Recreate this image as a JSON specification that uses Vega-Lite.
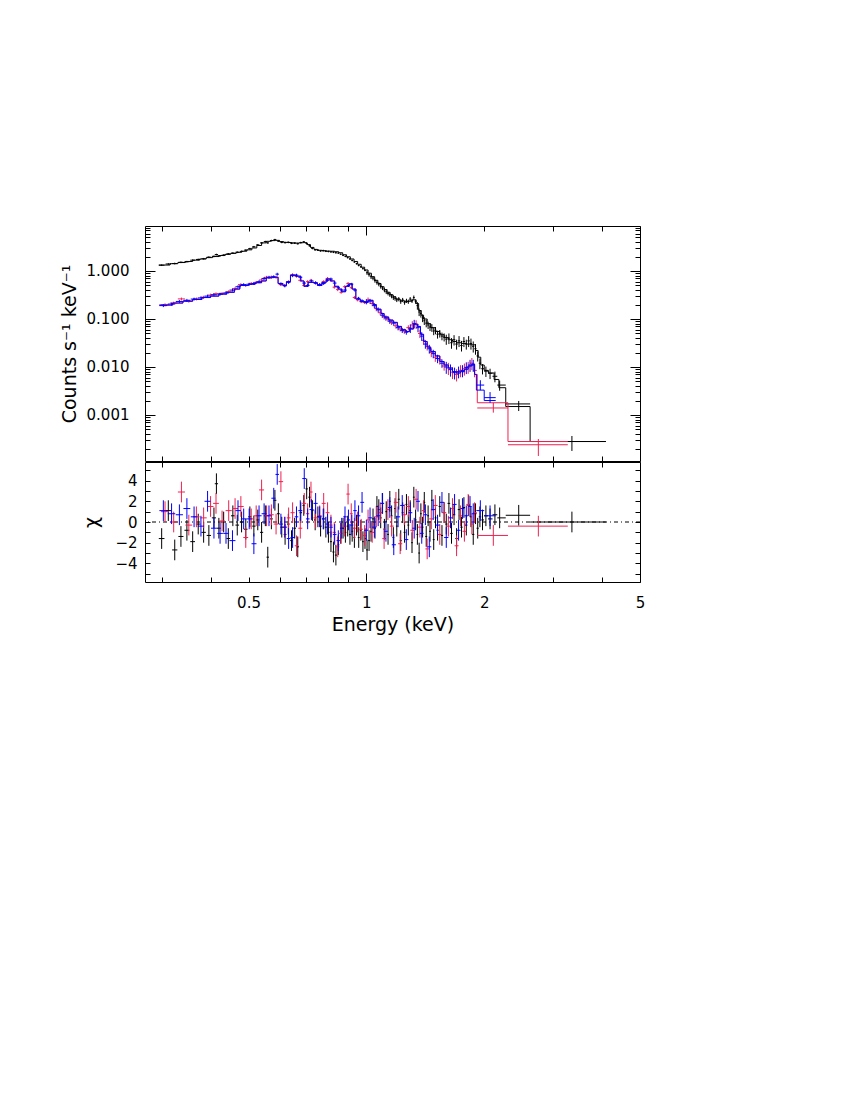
{
"$schema":"https://vega.github.io/schema/vega-lite/v6.json",
"background":"white",
"padding":{"left":59,"top":225,"right":5,"bottom":5},
"spacing":-3,
"config":{
 "view":{"stroke":"black","strokeWidth":1},
 "font":"DejaVu Sans",
 "axis":{"domain":false,"grid":false,"tickColor":"black","tickWidth":1,"labelFont":"DejaVu Sans","labelFontSize":15,"labelColor":"black","titleFont":"DejaVu Sans","titleFontSize":19,"titleFontWeight":"normal","titleColor":"black","labelOverlap":false,"labelFlush":false,"labelBound":false},
 "line":{"strokeWidth":1},
 "rule":{"strokeWidth":1}
},
"datasets":{
"obs":[
{"s":"k","e":0.300,"a":0.295,"b":0.305,"y":1.32,"l":1.27,"h":1.37,"r":-1.6,"rl":-2.6,"rh":-0.6},
{"s":"k","e":0.312,"a":0.307,"b":0.317,"y":1.40,"l":1.34,"h":1.46,"r":1.1,"rl":0.1,"rh":2.1},
{"s":"k","e":0.324,"a":0.319,"b":0.329,"y":1.43,"l":1.37,"h":1.49,"r":-2.7,"rl":-3.7,"rh":-1.7},
{"s":"k","e":0.336,"a":0.331,"b":0.341,"y":1.52,"l":1.46,"h":1.58,"r":-1.4,"rl":-2.4,"rh":-0.4},
{"s":"k","e":0.348,"a":0.343,"b":0.353,"y":1.56,"l":1.50,"h":1.62,"r":-0.8,"rl":-1.8,"rh":0.2},
{"s":"k","e":0.360,"a":0.355,"b":0.365,"y":1.68,"l":1.61,"h":1.75,"r":-1.9,"rl":-2.9,"rh":-0.9},
{"s":"k","e":0.372,"a":0.367,"b":0.377,"y":1.74,"l":1.67,"h":1.81,"r":-0.2,"rl":-1.2,"rh":0.8},
{"s":"k","e":0.384,"a":0.379,"b":0.389,"y":1.80,"l":1.73,"h":1.87,"r":-1.0,"rl":-2.0,"rh":0.0},
{"s":"k","e":0.396,"a":0.391,"b":0.401,"y":1.94,"l":1.86,"h":2.02,"r":-1.3,"rl":-2.3,"rh":-0.3},
{"s":"k","e":0.408,"a":0.403,"b":0.413,"y":2.02,"l":1.94,"h":2.10,"r":0.4,"rl":-0.6,"rh":1.4},
{"s":"k","e":0.414,"a":0.410,"b":0.418,"y":2.20,"l":2.11,"h":2.29,"r":3.7,"rl":2.7,"rh":4.7},
{"s":"k","e":0.420,"a":0.415,"b":0.425,"y":2.05,"l":1.97,"h":2.13,"r":-0.6,"rl":-1.6,"rh":0.4},
{"s":"k","e":0.432,"a":0.427,"b":0.437,"y":2.14,"l":2.05,"h":2.23,"r":0.0,"rl":-1.0,"rh":1.0},
{"s":"k","e":0.444,"a":0.439,"b":0.449,"y":2.28,"l":2.19,"h":2.37,"r":-1.6,"rl":-2.6,"rh":-0.6},
{"s":"k","e":0.456,"a":0.451,"b":0.461,"y":2.36,"l":2.27,"h":2.45,"r":0.6,"rl":-0.4,"rh":1.6},
{"s":"k","e":0.468,"a":0.463,"b":0.473,"y":2.46,"l":2.36,"h":2.56,"r":-0.3,"rl":-1.3,"rh":0.7},
{"s":"k","e":0.480,"a":0.475,"b":0.485,"y":2.56,"l":2.46,"h":2.66,"r":0.0,"rl":-1.0,"rh":1.0},
{"s":"k","e":0.492,"a":0.487,"b":0.497,"y":2.72,"l":2.61,"h":2.83,"r":-0.7,"rl":-1.7,"rh":0.3},
{"s":"k","e":0.504,"a":0.499,"b":0.509,"y":2.92,"l":2.80,"h":3.04,"r":0.5,"rl":-0.5,"rh":1.5},
{"s":"k","e":0.516,"a":0.511,"b":0.521,"y":3.20,"l":3.07,"h":3.33,"r":-0.4,"rl":-1.4,"rh":0.6},
{"s":"k","e":0.528,"a":0.523,"b":0.533,"y":3.50,"l":3.36,"h":3.64,"r":0.2,"rl":-0.8,"rh":1.2},
{"s":"k","e":0.540,"a":0.535,"b":0.545,"y":3.85,"l":3.70,"h":4.00,"r":-1.0,"rl":-2.0,"rh":0.0},
{"s":"k","e":0.552,"a":0.547,"b":0.557,"y":4.10,"l":3.94,"h":4.26,"r":0.6,"rl":-0.4,"rh":1.6},
{"s":"k","e":0.560,"a":0.556,"b":0.564,"y":3.85,"l":3.70,"h":4.00,"r":-3.4,"rl":-4.4,"rh":-2.4},
{"s":"k","e":0.572,"a":0.567,"b":0.577,"y":4.30,"l":4.13,"h":4.47,"r":0.3,"rl":-0.7,"rh":1.3},
{"s":"k","e":0.584,"a":0.579,"b":0.589,"y":4.50,"l":4.32,"h":4.68,"r":2.1,"rl":1.1,"rh":3.1},
{"s":"k","e":0.596,"a":0.591,"b":0.601,"y":4.20,"l":4.03,"h":4.37,"r":0.8,"rl":-0.2,"rh":1.8},
{"s":"k","e":0.608,"a":0.603,"b":0.613,"y":3.95,"l":3.79,"h":4.11,"r":-0.5,"rl":-1.5,"rh":0.5},
{"s":"k","e":0.620,"a":0.615,"b":0.625,"y":3.90,"l":3.74,"h":4.06,"r":-1.2,"rl":-2.2,"rh":-0.2},
{"s":"k","e":0.632,"a":0.627,"b":0.637,"y":3.96,"l":3.80,"h":4.12,"r":-0.2,"rl":-1.2,"rh":0.8},
{"s":"k","e":0.644,"a":0.639,"b":0.649,"y":3.78,"l":3.63,"h":3.93,"r":-1.8,"rl":-2.8,"rh":-0.8},
{"s":"k","e":0.656,"a":0.651,"b":0.661,"y":3.80,"l":3.65,"h":3.95,"r":-0.6,"rl":-1.6,"rh":0.4},
{"s":"k","e":0.668,"a":0.663,"b":0.673,"y":3.70,"l":3.55,"h":3.85,"r":-2.4,"rl":-3.4,"rh":-1.4},
{"s":"k","e":0.680,"a":0.675,"b":0.685,"y":3.90,"l":3.74,"h":4.06,"r":0.9,"rl":-0.1,"rh":1.9},
{"s":"k","e":0.692,"a":0.687,"b":0.697,"y":4.05,"l":3.89,"h":4.21,"r":1.6,"rl":0.6,"rh":2.6},
{"s":"k","e":0.704,"a":0.699,"b":0.709,"y":3.75,"l":3.60,"h":3.90,"r":3.2,"rl":2.2,"rh":4.2},
{"s":"k","e":0.716,"a":0.711,"b":0.721,"y":3.35,"l":3.22,"h":3.48,"r":2.4,"rl":1.4,"rh":3.4},
{"s":"k","e":0.728,"a":0.723,"b":0.733,"y":2.95,"l":2.83,"h":3.07,"r":1.1,"rl":0.1,"rh":2.1},
{"s":"k","e":0.740,"a":0.735,"b":0.745,"y":2.76,"l":2.65,"h":2.87,"r":0.2,"rl":-0.8,"rh":1.2},
{"s":"k","e":0.752,"a":0.747,"b":0.757,"y":2.72,"l":2.61,"h":2.83,"r":0.5,"rl":-0.5,"rh":1.5},
{"s":"k","e":0.764,"a":0.759,"b":0.769,"y":2.62,"l":2.52,"h":2.72,"r":-0.4,"rl":-1.4,"rh":0.6},
{"s":"k","e":0.776,"a":0.771,"b":0.781,"y":2.66,"l":2.55,"h":2.77,"r":0.3,"rl":-0.7,"rh":1.3},
{"s":"k","e":0.788,"a":0.783,"b":0.793,"y":2.58,"l":2.48,"h":2.68,"r":-0.5,"rl":-1.5,"rh":0.5},
{"s":"k","e":0.800,"a":0.795,"b":0.805,"y":2.55,"l":2.45,"h":2.65,"r":-1.0,"rl":-2.0,"rh":0.0},
{"s":"k","e":0.812,"a":0.807,"b":0.817,"y":2.50,"l":2.40,"h":2.60,"r":-1.9,"rl":-2.9,"rh":-0.9},
{"s":"k","e":0.824,"a":0.819,"b":0.829,"y":2.46,"l":2.36,"h":2.56,"r":-2.9,"rl":-3.9,"rh":-1.9},
{"s":"k","e":0.836,"a":0.831,"b":0.841,"y":2.40,"l":2.30,"h":2.50,"r":-3.2,"rl":-4.2,"rh":-2.2},
{"s":"k","e":0.848,"a":0.843,"b":0.853,"y":2.36,"l":2.27,"h":2.45,"r":-2.2,"rl":-3.2,"rh":-1.2},
{"s":"k","e":0.860,"a":0.855,"b":0.865,"y":2.24,"l":2.15,"h":2.33,"r":-1.1,"rl":-2.1,"rh":-0.1},
{"s":"k","e":0.872,"a":0.867,"b":0.877,"y":2.12,"l":2.04,"h":2.20,"r":-0.6,"rl":-1.6,"rh":0.4},
{"s":"k","e":0.884,"a":0.879,"b":0.889,"y":2.02,"l":1.94,"h":2.10,"r":-1.0,"rl":-2.0,"rh":0.0},
{"s":"k","e":0.896,"a":0.891,"b":0.901,"y":1.90,"l":1.82,"h":1.98,"r":-0.4,"rl":-1.4,"rh":0.6},
{"s":"k","e":0.908,"a":0.903,"b":0.913,"y":1.78,"l":1.71,"h":1.85,"r":-1.2,"rl":-2.2,"rh":-0.2},
{"s":"k","e":0.920,"a":0.915,"b":0.925,"y":1.66,"l":1.59,"h":1.73,"r":-0.9,"rl":-1.9,"rh":0.1},
{"s":"k","e":0.932,"a":0.927,"b":0.937,"y":1.54,"l":1.48,"h":1.60,"r":-1.5,"rl":-2.5,"rh":-0.5},
{"s":"k","e":0.944,"a":0.939,"b":0.949,"y":1.42,"l":1.36,"h":1.48,"r":-0.3,"rl":-1.3,"rh":0.7},
{"s":"k","e":0.956,"a":0.951,"b":0.961,"y":1.30,"l":1.25,"h":1.35,"r":-1.5,"rl":-2.5,"rh":-0.5},
{"s":"k","e":0.968,"a":0.963,"b":0.973,"y":1.22,"l":1.17,"h":1.27,"r":-0.8,"rl":-1.8,"rh":0.2},
{"s":"k","e":0.980,"a":0.975,"b":0.985,"y":1.12,"l":1.07,"h":1.17,"r":-1.9,"rl":-2.9,"rh":-0.9},
{"s":"k","e":0.992,"a":0.987,"b":0.997,"y":1.03,"l":0.99,"h":1.07,"r":-1.6,"rl":-2.6,"rh":-0.6},
{"s":"k","e":1.004,"a":0.998,"b":1.010,"y":0.92,"l":0.83,"h":1.01,"r":-2.7,"rl":-3.7,"rh":-1.7},
{"s":"k","e":1.016,"a":1.010,"b":1.022,"y":0.84,"l":0.76,"h":0.92,"r":-1.8,"rl":-2.8,"rh":-0.8},
{"s":"k","e":1.028,"a":1.022,"b":1.034,"y":0.76,"l":0.68,"h":0.84,"r":-0.9,"rl":-1.9,"rh":0.1},
{"s":"k","e":1.040,"a":1.034,"b":1.046,"y":0.71,"l":0.64,"h":0.78,"r":0.3,"rl":-0.7,"rh":1.3},
{"s":"k","e":1.052,"a":1.046,"b":1.058,"y":0.63,"l":0.57,"h":0.69,"r":-0.6,"rl":-1.6,"rh":0.4},
{"s":"k","e":1.064,"a":1.058,"b":1.070,"y":0.58,"l":0.52,"h":0.64,"r":1.5,"rl":0.5,"rh":2.5},
{"s":"k","e":1.076,"a":1.070,"b":1.082,"y":0.53,"l":0.48,"h":0.58,"r":1.2,"rl":0.2,"rh":2.2},
{"s":"k","e":1.088,"a":1.082,"b":1.094,"y":0.48,"l":0.43,"h":0.53,"r":0.4,"rl":-0.6,"rh":1.4},
{"s":"k","e":1.100,"a":1.094,"b":1.106,"y":0.44,"l":0.40,"h":0.48,"r":1.8,"rl":0.8,"rh":2.8},
{"s":"k","e":1.112,"a":1.106,"b":1.118,"y":0.40,"l":0.36,"h":0.44,"r":-0.7,"rl":-1.7,"rh":0.3},
{"s":"k","e":1.124,"a":1.118,"b":1.130,"y":0.37,"l":0.33,"h":0.41,"r":1.0,"rl":0.0,"rh":2.0},
{"s":"k","e":1.136,"a":1.130,"b":1.142,"y":0.34,"l":0.31,"h":0.37,"r":-1.2,"rl":-2.2,"rh":-0.2},
{"s":"k","e":1.148,"a":1.142,"b":1.154,"y":0.32,"l":0.29,"h":0.35,"r":2.0,"rl":1.0,"rh":3.0},
{"s":"k","e":1.160,"a":1.154,"b":1.166,"y":0.30,"l":0.27,"h":0.33,"r":0.6,"rl":-0.4,"rh":1.6},
{"s":"k","e":1.172,"a":1.166,"b":1.178,"y":0.28,"l":0.25,"h":0.31,"r":-1.5,"rl":-2.5,"rh":-0.5},
{"s":"k","e":1.184,"a":1.178,"b":1.190,"y":0.27,"l":0.24,"h":0.30,"r":1.3,"rl":0.3,"rh":2.3},
{"s":"k","e":1.196,"a":1.190,"b":1.203,"y":0.25,"l":0.225,"h":0.275,"r":-0.4,"rl":-1.4,"rh":0.6},
{"s":"k","e":1.210,"a":1.203,"b":1.217,"y":0.26,"l":0.234,"h":0.286,"r":2.2,"rl":1.2,"rh":3.2},
{"s":"k","e":1.224,"a":1.217,"b":1.231,"y":0.23,"l":0.207,"h":0.253,"r":-1.8,"rl":-2.8,"rh":-0.8},
{"s":"k","e":1.238,"a":1.231,"b":1.245,"y":0.25,"l":0.225,"h":0.275,"r":0.9,"rl":-0.1,"rh":1.9},
{"s":"k","e":1.252,"a":1.245,"b":1.259,"y":0.22,"l":0.198,"h":0.242,"r":-1.0,"rl":-2.0,"rh":0.0},
{"s":"k","e":1.266,"a":1.259,"b":1.273,"y":0.24,"l":0.216,"h":0.264,"r":1.7,"rl":0.7,"rh":2.7},
{"s":"k","e":1.280,"a":1.273,"b":1.287,"y":0.23,"l":0.207,"h":0.253,"r":-0.3,"rl":-1.3,"rh":0.7},
{"s":"k","e":1.294,"a":1.287,"b":1.301,"y":0.26,"l":0.234,"h":0.286,"r":1.1,"rl":0.1,"rh":2.1},
{"s":"k","e":1.308,"a":1.301,"b":1.315,"y":0.24,"l":0.216,"h":0.264,"r":-2.0,"rl":-3.0,"rh":-1.0},
{"s":"k","e":1.322,"a":1.315,"b":1.329,"y":0.28,"l":0.252,"h":0.308,"r":2.4,"rl":1.4,"rh":3.4},
{"s":"k","e":1.336,"a":1.329,"b":1.343,"y":0.23,"l":0.207,"h":0.253,"r":0.2,"rl":-0.8,"rh":1.2},
{"s":"k","e":1.350,"a":1.343,"b":1.357,"y":0.19,"l":0.156,"h":0.224,"r":-1.2,"rl":-2.2,"rh":-0.2},
{"s":"k","e":1.364,"a":1.357,"b":1.371,"y":0.14,"l":0.115,"h":0.165,"r":-3.0,"rl":-4.0,"rh":-2.0},
{"s":"k","e":1.378,"a":1.371,"b":1.385,"y":0.13,"l":0.107,"h":0.153,"r":0.8,"rl":-0.2,"rh":1.8},
{"s":"k","e":1.392,"a":1.385,"b":1.399,"y":0.105,"l":0.086,"h":0.124,"r":-0.5,"rl":-1.5,"rh":0.5},
{"s":"k","e":1.406,"a":1.399,"b":1.414,"y":0.092,"l":0.075,"h":0.109,"r":1.9,"rl":0.9,"rh":2.9},
{"s":"k","e":1.422,"a":1.414,"b":1.430,"y":0.082,"l":0.067,"h":0.097,"r":-1.4,"rl":-2.4,"rh":-0.4},
{"s":"k","e":1.438,"a":1.430,"b":1.446,"y":0.075,"l":0.062,"h":0.088,"r":0.6,"rl":-0.4,"rh":1.6},
{"s":"k","e":1.454,"a":1.446,"b":1.462,"y":0.068,"l":0.056,"h":0.080,"r":-0.9,"rl":-1.9,"rh":0.1},
{"s":"k","e":1.470,"a":1.462,"b":1.478,"y":0.066,"l":0.054,"h":0.078,"r":2.1,"rl":1.1,"rh":3.1},
{"s":"k","e":1.486,"a":1.478,"b":1.494,"y":0.056,"l":0.046,"h":0.066,"r":-1.7,"rl":-2.7,"rh":-0.7},
{"s":"k","e":1.502,"a":1.494,"b":1.511,"y":0.058,"l":0.048,"h":0.068,"r":0.4,"rl":-0.6,"rh":1.4},
{"s":"k","e":1.520,"a":1.511,"b":1.530,"y":0.048,"l":0.039,"h":0.057,"r":-0.8,"rl":-1.8,"rh":0.2},
{"s":"k","e":1.540,"a":1.530,"b":1.550,"y":0.050,"l":0.041,"h":0.059,"r":1.5,"rl":0.5,"rh":2.5},
{"s":"k","e":1.560,"a":1.550,"b":1.570,"y":0.044,"l":0.036,"h":0.052,"r":-1.3,"rl":-2.3,"rh":-0.3},
{"s":"k","e":1.580,"a":1.570,"b":1.590,"y":0.042,"l":0.034,"h":0.050,"r":0.9,"rl":-0.1,"rh":1.9},
{"s":"k","e":1.600,"a":1.590,"b":1.612,"y":0.038,"l":0.029,"h":0.047,"r":-0.2,"rl":-1.2,"rh":0.8},
{"s":"k","e":1.625,"a":1.612,"b":1.637,"y":0.040,"l":0.030,"h":0.050,"r":1.8,"rl":0.8,"rh":2.8},
{"s":"k","e":1.650,"a":1.637,"b":1.662,"y":0.032,"l":0.024,"h":0.040,"r":-1.1,"rl":-2.1,"rh":-0.1},
{"s":"k","e":1.675,"a":1.662,"b":1.687,"y":0.037,"l":0.028,"h":0.046,"r":0.7,"rl":-0.3,"rh":1.7},
{"s":"k","e":1.700,"a":1.687,"b":1.712,"y":0.030,"l":0.023,"h":0.037,"r":-1.6,"rl":-2.6,"rh":-0.6},
{"s":"k","e":1.725,"a":1.712,"b":1.737,"y":0.035,"l":0.026,"h":0.044,"r":1.2,"rl":0.2,"rh":2.2},
{"s":"k","e":1.750,"a":1.737,"b":1.762,"y":0.028,"l":0.021,"h":0.035,"r":-0.5,"rl":-1.5,"rh":0.5},
{"s":"k","e":1.775,"a":1.762,"b":1.787,"y":0.034,"l":0.026,"h":0.042,"r":1.4,"rl":0.4,"rh":2.4},
{"s":"k","e":1.800,"a":1.787,"b":1.812,"y":0.030,"l":0.023,"h":0.037,"r":-0.3,"rl":-1.3,"rh":0.7},
{"s":"k","e":1.825,"a":1.812,"b":1.837,"y":0.035,"l":0.026,"h":0.044,"r":1.6,"rl":0.6,"rh":2.6},
{"s":"k","e":1.850,"a":1.837,"b":1.862,"y":0.031,"l":0.023,"h":0.039,"r":0.5,"rl":-0.5,"rh":1.5},
{"s":"k","e":1.875,"a":1.862,"b":1.887,"y":0.027,"l":0.020,"h":0.034,"r":-1.2,"rl":-2.2,"rh":-0.2},
{"s":"k","e":1.900,"a":1.887,"b":1.912,"y":0.024,"l":0.018,"h":0.030,"r":0.8,"rl":-0.2,"rh":1.8},
{"s":"k","e":1.925,"a":1.912,"b":1.937,"y":0.017,"l":0.013,"h":0.021,"r":-0.6,"rl":-1.6,"rh":0.4},
{"s":"k","e":1.950,"a":1.937,"b":1.965,"y":0.012,"l":0.009,"h":0.015,"r":0.5,"rl":-0.5,"rh":1.5},
{"s":"k","e":1.980,"a":1.965,"b":1.998,"y":0.0092,"l":0.0070,"h":0.0115,"r":0.2,"rl":-0.8,"rh":1.2},
{"s":"k","e":2.020,"a":1.998,"b":2.045,"y":0.0082,"l":0.0062,"h":0.0102,"r":0.6,"rl":-0.4,"rh":1.6},
{"s":"k","e":2.070,"a":2.045,"b":2.100,"y":0.0074,"l":0.0056,"h":0.0092,"r":0.3,"rl":-0.7,"rh":1.3},
{"s":"k","e":2.130,"a":2.100,"b":2.160,"y":0.0064,"l":0.0048,"h":0.0080,"r":0.7,"rl":-0.3,"rh":1.7},
{"s":"k","e":2.190,"a":2.160,"b":2.270,"y":0.0042,"l":0.0032,"h":0.0052,"r":0.4,"rl":-0.6,"rh":1.4},
{"s":"k","e":2.450,"a":2.270,"b":2.620,"y":0.0017,"l":0.00121,"h":0.00196,"r":0.65,"rl":-0.35,"rh":1.65},
{"s":"k","e":3.350,"a":2.620,"b":4.090,"y":0.00028,"l":0.000178,"h":0.000365,"r":0.0,"rl":-1.0,"rh":1.0},
{"s":"r","e":0.306,"a":0.299,"b":0.313,"y":0.198,"l":0.184,"h":0.212,"r":1.0,"rl":0.0,"rh":2.0},
{"s":"r","e":0.322,"a":0.315,"b":0.329,"y":0.215,"l":0.200,"h":0.230,"r":0.0,"rl":-1.0,"rh":1.0},
{"s":"r","e":0.337,"a":0.330,"b":0.344,"y":0.262,"l":0.244,"h":0.280,"r":2.9,"rl":1.9,"rh":3.9},
{"s":"r","e":0.352,"a":0.345,"b":0.359,"y":0.235,"l":0.219,"h":0.251,"r":-0.3,"rl":-1.3,"rh":0.7},
{"s":"r","e":0.368,"a":0.361,"b":0.375,"y":0.262,"l":0.244,"h":0.280,"r":0.5,"rl":-0.5,"rh":1.5},
{"s":"r","e":0.384,"a":0.377,"b":0.391,"y":0.285,"l":0.265,"h":0.305,"r":0.4,"rl":-0.6,"rh":1.4},
{"s":"r","e":0.400,"a":0.393,"b":0.407,"y":0.315,"l":0.293,"h":0.337,"r":1.5,"rl":0.5,"rh":2.5},
{"s":"r","e":0.413,"a":0.406,"b":0.420,"y":0.335,"l":0.312,"h":0.358,"r":1.8,"rl":0.8,"rh":2.8},
{"s":"r","e":0.428,"a":0.421,"b":0.435,"y":0.340,"l":0.316,"h":0.364,"r":0.1,"rl":-0.9,"rh":1.1},
{"s":"r","e":0.445,"a":0.437,"b":0.453,"y":0.370,"l":0.344,"h":0.396,"r":1.1,"rl":0.1,"rh":2.1},
{"s":"r","e":0.462,"a":0.454,"b":0.470,"y":0.430,"l":0.400,"h":0.460,"r":1.3,"rl":0.3,"rh":2.3},
{"s":"r","e":0.478,"a":0.470,"b":0.486,"y":0.520,"l":0.484,"h":0.556,"r":1.5,"rl":0.5,"rh":2.5},
{"s":"r","e":0.492,"a":0.485,"b":0.499,"y":0.500,"l":0.465,"h":0.535,"r":-1.5,"rl":-2.5,"rh":-0.5},
{"s":"r","e":0.508,"a":0.500,"b":0.516,"y":0.550,"l":0.512,"h":0.588,"r":0.3,"rl":-0.7,"rh":1.3},
{"s":"r","e":0.523,"a":0.515,"b":0.531,"y":0.580,"l":0.539,"h":0.621,"r":0.6,"rl":-0.4,"rh":1.6},
{"s":"r","e":0.540,"a":0.532,"b":0.548,"y":0.650,"l":0.605,"h":0.695,"r":3.1,"rl":2.1,"rh":4.1},
{"s":"r","e":0.556,"a":0.548,"b":0.564,"y":0.740,"l":0.688,"h":0.792,"r":0.6,"rl":-0.4,"rh":1.6},
{"s":"r","e":0.572,"a":0.564,"b":0.580,"y":0.750,"l":0.698,"h":0.802,"r":0.7,"rl":-0.3,"rh":1.7},
{"s":"r","e":0.588,"a":0.580,"b":0.596,"y":0.740,"l":0.688,"h":0.792,"r":-0.2,"rl":-1.2,"rh":0.8},
{"s":"r","e":0.605,"a":0.597,"b":0.613,"y":0.520,"l":0.484,"h":0.556,"r":3.9,"rl":2.9,"rh":4.9},
{"s":"r","e":0.619,"a":0.612,"b":0.626,"y":0.500,"l":0.465,"h":0.535,"r":-0.5,"rl":-1.5,"rh":0.5},
{"s":"r","e":0.633,"a":0.626,"b":0.640,"y":0.600,"l":0.558,"h":0.642,"r":0.4,"rl":-0.6,"rh":1.4},
{"s":"r","e":0.648,"a":0.640,"b":0.656,"y":0.840,"l":0.781,"h":0.899,"r":0.9,"rl":-0.1,"rh":1.9},
{"s":"r","e":0.663,"a":0.656,"b":0.670,"y":0.780,"l":0.725,"h":0.835,"r":-2.3,"rl":-3.3,"rh":-1.3},
{"s":"r","e":0.678,"a":0.670,"b":0.686,"y":0.640,"l":0.595,"h":0.685,"r":-0.6,"rl":-1.6,"rh":0.4},
{"s":"r","e":0.694,"a":0.686,"b":0.702,"y":0.500,"l":0.465,"h":0.535,"r":1.8,"rl":0.8,"rh":2.8},
{"s":"r","e":0.708,"a":0.701,"b":0.715,"y":0.600,"l":0.558,"h":0.642,"r":0.8,"rl":-0.2,"rh":1.8},
{"s":"r","e":0.722,"a":0.715,"b":0.729,"y":0.640,"l":0.595,"h":0.685,"r":2.9,"rl":1.9,"rh":3.9},
{"s":"r","e":0.742,"a":0.733,"b":0.751,"y":0.560,"l":0.521,"h":0.599,"r":0.4,"rl":-0.6,"rh":1.4},
{"s":"r","e":0.760,"a":0.751,"b":0.769,"y":0.520,"l":0.484,"h":0.556,"r":0.6,"rl":-0.4,"rh":1.6},
{"s":"r","e":0.778,"a":0.769,"b":0.787,"y":0.600,"l":0.558,"h":0.642,"r":1.8,"rl":0.8,"rh":2.8},
{"s":"r","e":0.796,"a":0.787,"b":0.805,"y":0.700,"l":0.651,"h":0.749,"r":0.9,"rl":-0.1,"rh":1.9},
{"s":"r","e":0.812,"a":0.804,"b":0.820,"y":0.640,"l":0.595,"h":0.685,"r":-0.3,"rl":-1.3,"rh":0.7},
{"s":"r","e":0.828,"a":0.820,"b":0.836,"y":0.460,"l":0.428,"h":0.492,"r":-1.0,"rl":-2.0,"rh":0.0},
{"s":"r","e":0.845,"a":0.837,"b":0.853,"y":0.410,"l":0.381,"h":0.439,"r":-2.4,"rl":-3.4,"rh":-1.4},
{"s":"r","e":0.862,"a":0.854,"b":0.870,"y":0.360,"l":0.335,"h":0.385,"r":-1.1,"rl":-2.1,"rh":-0.1},
{"s":"r","e":0.880,"a":0.871,"b":0.889,"y":0.470,"l":0.437,"h":0.503,"r":-0.4,"rl":-1.4,"rh":0.6},
{"s":"r","e":0.898,"a":0.889,"b":0.907,"y":0.550,"l":0.512,"h":0.588,"r":2.7,"rl":1.7,"rh":3.7},
{"s":"r","e":0.915,"a":0.907,"b":0.923,"y":0.450,"l":0.419,"h":0.481,"r":0.8,"rl":-0.2,"rh":1.8},
{"s":"r","e":0.932,"a":0.923,"b":0.941,"y":0.280,"l":0.260,"h":0.300,"r":-0.6,"rl":-1.6,"rh":0.4},
{"s":"r","e":0.950,"a":0.941,"b":0.959,"y":0.250,"l":0.233,"h":0.267,"r":0.0,"rl":-1.0,"rh":1.0},
{"s":"r","e":0.970,"a":0.960,"b":0.980,"y":0.230,"l":0.214,"h":0.246,"r":-0.7,"rl":-1.7,"rh":0.3},
{"s":"r","e":0.990,"a":0.980,"b":1.000,"y":0.220,"l":0.205,"h":0.235,"r":-1.3,"rl":-2.3,"rh":-0.3},
{"s":"r","e":1.010,"a":0.998,"b":1.022,"y":0.250,"l":0.220,"h":0.280,"r":0.2,"rl":-0.8,"rh":1.2},
{"s":"r","e":1.035,"a":1.022,"b":1.048,"y":0.210,"l":0.185,"h":0.235,"r":-1.0,"rl":-2.0,"rh":0.0},
{"s":"r","e":1.060,"a":1.048,"b":1.072,"y":0.165,"l":0.145,"h":0.185,"r":0.5,"rl":-0.5,"rh":1.5},
{"s":"r","e":1.085,"a":1.072,"b":1.098,"y":0.135,"l":0.119,"h":0.151,"r":0.9,"rl":-0.1,"rh":1.9},
{"s":"r","e":1.110,"a":1.098,"b":1.122,"y":0.110,"l":0.097,"h":0.123,"r":-1.6,"rl":-2.6,"rh":-0.6},
{"s":"r","e":1.135,"a":1.122,"b":1.148,"y":0.100,"l":0.088,"h":0.112,"r":1.2,"rl":0.2,"rh":2.2},
{"s":"r","e":1.160,"a":1.148,"b":1.175,"y":0.085,"l":0.075,"h":0.095,"r":-0.4,"rl":-1.4,"rh":0.6},
{"s":"r","e":1.190,"a":1.175,"b":1.205,"y":0.072,"l":0.063,"h":0.081,"r":1.9,"rl":0.9,"rh":2.9},
{"s":"r","e":1.220,"a":1.205,"b":1.235,"y":0.062,"l":0.055,"h":0.069,"r":-2.1,"rl":-3.1,"rh":-1.1},
{"s":"r","e":1.250,"a":1.235,"b":1.265,"y":0.056,"l":0.049,"h":0.063,"r":0.7,"rl":-0.3,"rh":1.7},
{"s":"r","e":1.280,"a":1.265,"b":1.295,"y":0.066,"l":0.058,"h":0.074,"r":1.5,"rl":0.5,"rh":2.5},
{"s":"r","e":1.310,"a":1.295,"b":1.325,"y":0.075,"l":0.060,"h":0.090,"r":-0.8,"rl":-1.8,"rh":0.2},
{"s":"r","e":1.340,"a":1.325,"b":1.355,"y":0.078,"l":0.062,"h":0.094,"r":2.2,"rl":1.2,"rh":3.2},
{"s":"r","e":1.370,"a":1.355,"b":1.385,"y":0.050,"l":0.040,"h":0.060,"r":-0.5,"rl":-1.5,"rh":0.5},
{"s":"r","e":1.400,"a":1.385,"b":1.415,"y":0.036,"l":0.029,"h":0.043,"r":1.1,"rl":0.1,"rh":2.1},
{"s":"r","e":1.430,"a":1.415,"b":1.447,"y":0.027,"l":0.022,"h":0.032,"r":-2.6,"rl":-3.6,"rh":-1.6},
{"s":"r","e":1.465,"a":1.447,"b":1.482,"y":0.020,"l":0.016,"h":0.024,"r":0.3,"rl":-0.7,"rh":1.3},
{"s":"r","e":1.500,"a":1.482,"b":1.520,"y":0.016,"l":0.0128,"h":0.0192,"r":1.6,"rl":0.6,"rh":2.6},
{"s":"r","e":1.540,"a":1.520,"b":1.560,"y":0.014,"l":0.0112,"h":0.0168,"r":-1.2,"rl":-2.2,"rh":-0.2},
{"s":"r","e":1.580,"a":1.560,"b":1.600,"y":0.0105,"l":0.0084,"h":0.0126,"r":0.9,"rl":-0.1,"rh":1.9},
{"s":"r","e":1.620,"a":1.600,"b":1.640,"y":0.0095,"l":0.0068,"h":0.0122,"r":-0.4,"rl":-1.4,"rh":0.6},
{"s":"r","e":1.660,"a":1.640,"b":1.680,"y":0.0078,"l":0.0056,"h":0.0100,"r":1.3,"rl":0.3,"rh":2.3},
{"s":"r","e":1.700,"a":1.680,"b":1.720,"y":0.0070,"l":0.0050,"h":0.0090,"r":-2.3,"rl":-3.3,"rh":-1.3},
{"s":"r","e":1.740,"a":1.720,"b":1.760,"y":0.0085,"l":0.0061,"h":0.0109,"r":0.6,"rl":-0.4,"rh":1.6},
{"s":"r","e":1.780,"a":1.760,"b":1.800,"y":0.0092,"l":0.0066,"h":0.0118,"r":-0.9,"rl":-1.9,"rh":0.1},
{"s":"r","e":1.820,"a":1.800,"b":1.840,"y":0.0100,"l":0.0072,"h":0.0128,"r":1.7,"rl":0.7,"rh":2.7},
{"s":"r","e":1.860,"a":1.840,"b":1.875,"y":0.0120,"l":0.0086,"h":0.0154,"r":-0.2,"rl":-1.2,"rh":0.8},
{"s":"r","e":1.890,"a":1.875,"b":1.915,"y":0.0085,"l":0.0061,"h":0.0109,"r":0.9,"rl":-0.1,"rh":1.9},
{"s":"r","e":2.110,"a":1.920,"b":2.300,"y":0.0014,"l":0.00112,"h":0.0018,"r":-1.3,"rl":-2.3,"rh":-0.3},
{"s":"r","e":2.750,"a":2.300,"b":3.270,"y":0.00024,"l":0.00014,"h":0.000316,"r":-0.4,"rl":-1.4,"rh":0.6},
{"s":"b","e":0.303,"a":0.296,"b":0.310,"y":0.190,"l":0.177,"h":0.203,"r":1.1,"rl":0.1,"rh":2.1},
{"s":"b","e":0.318,"a":0.311,"b":0.325,"y":0.205,"l":0.191,"h":0.219,"r":0.8,"rl":-0.2,"rh":1.8},
{"s":"b","e":0.333,"a":0.326,"b":0.340,"y":0.232,"l":0.216,"h":0.248,"r":0.7,"rl":-0.3,"rh":1.7},
{"s":"b","e":0.348,"a":0.341,"b":0.355,"y":0.245,"l":0.228,"h":0.262,"r":1.3,"rl":0.3,"rh":2.3},
{"s":"b","e":0.363,"a":0.356,"b":0.370,"y":0.260,"l":0.242,"h":0.278,"r":0.5,"rl":-0.5,"rh":1.5},
{"s":"b","e":0.378,"a":0.371,"b":0.385,"y":0.275,"l":0.256,"h":0.294,"r":-0.4,"rl":-1.4,"rh":0.6},
{"s":"b","e":0.393,"a":0.386,"b":0.400,"y":0.300,"l":0.279,"h":0.321,"r":2.0,"rl":1.0,"rh":3.0},
{"s":"b","e":0.408,"a":0.401,"b":0.415,"y":0.320,"l":0.298,"h":0.342,"r":-0.6,"rl":-1.6,"rh":0.4},
{"s":"b","e":0.423,"a":0.416,"b":0.430,"y":0.330,"l":0.307,"h":0.353,"r":-1.1,"rl":-2.1,"rh":-0.1},
{"s":"b","e":0.438,"a":0.431,"b":0.446,"y":0.350,"l":0.326,"h":0.374,"r":-1.1,"rl":-2.1,"rh":-0.1},
{"s":"b","e":0.455,"a":0.447,"b":0.463,"y":0.400,"l":0.372,"h":0.428,"r":-1.8,"rl":-2.8,"rh":-0.8},
{"s":"b","e":0.470,"a":0.463,"b":0.478,"y":0.470,"l":0.437,"h":0.503,"r":1.1,"rl":0.1,"rh":2.1},
{"s":"b","e":0.486,"a":0.478,"b":0.494,"y":0.520,"l":0.484,"h":0.556,"r":0.3,"rl":-0.7,"rh":1.3},
{"s":"b","e":0.502,"a":0.494,"b":0.510,"y":0.530,"l":0.493,"h":0.567,"r":0.3,"rl":-0.7,"rh":1.3},
{"s":"b","e":0.516,"a":0.509,"b":0.524,"y":0.550,"l":0.512,"h":0.588,"r":-2.1,"rl":-3.1,"rh":-1.1},
{"s":"b","e":0.532,"a":0.524,"b":0.540,"y":0.600,"l":0.558,"h":0.642,"r":0.6,"rl":-0.4,"rh":1.6},
{"s":"b","e":0.548,"a":0.540,"b":0.556,"y":0.700,"l":0.651,"h":0.749,"r":0.8,"rl":-0.2,"rh":1.8},
{"s":"b","e":0.564,"a":0.556,"b":0.572,"y":0.740,"l":0.688,"h":0.792,"r":0.6,"rl":-0.4,"rh":1.6},
{"s":"b","e":0.580,"a":0.572,"b":0.586,"y":0.760,"l":0.707,"h":0.813,"r":2.3,"rl":1.3,"rh":3.3},
{"s":"b","e":0.592,"a":0.586,"b":0.598,"y":0.860,"l":0.800,"h":0.920,"r":4.6,"rl":3.6,"rh":5.6},
{"s":"b","e":0.605,"a":0.598,"b":0.612,"y":0.540,"l":0.502,"h":0.578,"r":-0.2,"rl":-1.2,"rh":0.8},
{"s":"b","e":0.619,"a":0.612,"b":0.626,"y":0.490,"l":0.456,"h":0.524,"r":-0.5,"rl":-1.5,"rh":0.5},
{"s":"b","e":0.633,"a":0.626,"b":0.640,"y":0.580,"l":0.539,"h":0.621,"r":-1.6,"rl":-2.6,"rh":-0.6},
{"s":"b","e":0.648,"a":0.640,"b":0.656,"y":0.800,"l":0.744,"h":0.856,"r":-1.5,"rl":-2.5,"rh":-0.5},
{"s":"b","e":0.663,"a":0.656,"b":0.670,"y":0.820,"l":0.763,"h":0.877,"r":0.5,"rl":-0.5,"rh":1.5},
{"s":"b","e":0.678,"a":0.670,"b":0.686,"y":0.740,"l":0.688,"h":0.792,"r":1.1,"rl":0.1,"rh":2.1},
{"s":"b","e":0.694,"a":0.686,"b":0.701,"y":0.560,"l":0.521,"h":0.599,"r":4.2,"rl":3.2,"rh":5.2},
{"s":"b","e":0.708,"a":0.701,"b":0.716,"y":0.500,"l":0.465,"h":0.535,"r":0.3,"rl":-0.7,"rh":1.3},
{"s":"b","e":0.724,"a":0.716,"b":0.733,"y":0.620,"l":0.577,"h":0.663,"r":1.2,"rl":0.2,"rh":2.2},
{"s":"b","e":0.742,"a":0.733,"b":0.751,"y":0.570,"l":0.530,"h":0.610,"r":1.8,"rl":0.8,"rh":2.8},
{"s":"b","e":0.760,"a":0.751,"b":0.769,"y":0.520,"l":0.484,"h":0.556,"r":0.5,"rl":-0.5,"rh":1.5},
{"s":"b","e":0.778,"a":0.769,"b":0.787,"y":0.550,"l":0.512,"h":0.588,"r":0.3,"rl":-0.7,"rh":1.3},
{"s":"b","e":0.796,"a":0.787,"b":0.804,"y":0.640,"l":0.595,"h":0.685,"r":-0.2,"rl":-1.2,"rh":0.8},
{"s":"b","e":0.812,"a":0.804,"b":0.821,"y":0.680,"l":0.632,"h":0.728,"r":-0.5,"rl":-1.5,"rh":0.5},
{"s":"b","e":0.830,"a":0.821,"b":0.839,"y":0.560,"l":0.521,"h":0.599,"r":-1.2,"rl":-2.2,"rh":-0.2},
{"s":"b","e":0.848,"a":0.839,"b":0.856,"y":0.450,"l":0.419,"h":0.481,"r":-1.8,"rl":-2.8,"rh":-0.8},
{"s":"b","e":0.865,"a":0.856,"b":0.873,"y":0.400,"l":0.372,"h":0.428,"r":-0.6,"rl":-1.6,"rh":0.4},
{"s":"b","e":0.882,"a":0.873,"b":0.891,"y":0.400,"l":0.372,"h":0.428,"r":0.5,"rl":-0.5,"rh":1.5},
{"s":"b","e":0.900,"a":0.891,"b":0.909,"y":0.500,"l":0.465,"h":0.535,"r":0.2,"rl":-0.8,"rh":1.2},
{"s":"b","e":0.918,"a":0.909,"b":0.926,"y":0.530,"l":0.493,"h":0.567,"r":-0.3,"rl":-1.3,"rh":0.7},
{"s":"b","e":0.935,"a":0.926,"b":0.945,"y":0.400,"l":0.372,"h":0.428,"r":1.1,"rl":0.1,"rh":2.1},
{"s":"b","e":0.955,"a":0.945,"b":0.965,"y":0.270,"l":0.251,"h":0.289,"r":0.6,"rl":-0.4,"rh":1.6},
{"s":"b","e":0.975,"a":0.965,"b":0.987,"y":0.240,"l":0.223,"h":0.257,"r":1.9,"rl":0.9,"rh":2.9},
{"s":"b","e":1.000,"a":0.987,"b":1.011,"y":0.230,"l":0.202,"h":0.258,"r":-0.8,"rl":-1.8,"rh":0.2},
{"s":"b","e":1.022,"a":1.011,"b":1.035,"y":0.235,"l":0.207,"h":0.263,"r":0.4,"rl":-0.6,"rh":1.4},
{"s":"b","e":1.048,"a":1.035,"b":1.060,"y":0.190,"l":0.167,"h":0.213,"r":-0.5,"rl":-1.5,"rh":0.5},
{"s":"b","e":1.072,"a":1.060,"b":1.085,"y":0.155,"l":0.136,"h":0.174,"r":0.6,"rl":-0.4,"rh":1.6},
{"s":"b","e":1.098,"a":1.085,"b":1.110,"y":0.120,"l":0.106,"h":0.134,"r":1.8,"rl":0.8,"rh":2.8},
{"s":"b","e":1.122,"a":1.110,"b":1.135,"y":0.105,"l":0.092,"h":0.118,"r":-0.9,"rl":-1.9,"rh":0.1},
{"s":"b","e":1.148,"a":1.135,"b":1.161,"y":0.090,"l":0.079,"h":0.101,"r":1.4,"rl":0.4,"rh":2.4},
{"s":"b","e":1.175,"a":1.161,"b":1.190,"y":0.082,"l":0.072,"h":0.092,"r":-2.2,"rl":-3.2,"rh":-1.2},
{"s":"b","e":1.205,"a":1.190,"b":1.220,"y":0.066,"l":0.058,"h":0.074,"r":0.5,"rl":-0.5,"rh":1.5},
{"s":"b","e":1.235,"a":1.220,"b":1.250,"y":0.058,"l":0.051,"h":0.065,"r":1.6,"rl":0.6,"rh":2.6},
{"s":"b","e":1.265,"a":1.250,"b":1.280,"y":0.053,"l":0.047,"h":0.059,"r":-1.7,"rl":-2.7,"rh":-0.7},
{"s":"b","e":1.295,"a":1.280,"b":1.310,"y":0.064,"l":0.051,"h":0.077,"r":0.9,"rl":-0.1,"rh":1.9},
{"s":"b","e":1.325,"a":1.310,"b":1.340,"y":0.080,"l":0.064,"h":0.096,"r":-0.6,"rl":-1.6,"rh":0.4},
{"s":"b","e":1.355,"a":1.340,"b":1.370,"y":0.066,"l":0.053,"h":0.079,"r":2.0,"rl":1.0,"rh":3.0},
{"s":"b","e":1.385,"a":1.370,"b":1.400,"y":0.044,"l":0.035,"h":0.053,"r":-1.1,"rl":-2.1,"rh":-0.1},
{"s":"b","e":1.415,"a":1.400,"b":1.431,"y":0.030,"l":0.024,"h":0.036,"r":0.7,"rl":-0.3,"rh":1.7},
{"s":"b","e":1.448,"a":1.431,"b":1.465,"y":0.024,"l":0.019,"h":0.029,"r":-2.4,"rl":-3.4,"rh":-1.4},
{"s":"b","e":1.482,"a":1.465,"b":1.500,"y":0.019,"l":0.0152,"h":0.0228,"r":1.2,"rl":0.2,"rh":2.2},
{"s":"b","e":1.520,"a":1.500,"b":1.540,"y":0.015,"l":0.012,"h":0.018,"r":-0.3,"rl":-1.3,"rh":0.7},
{"s":"b","e":1.560,"a":1.540,"b":1.580,"y":0.012,"l":0.0096,"h":0.0144,"r":1.9,"rl":0.9,"rh":2.9},
{"s":"b","e":1.600,"a":1.580,"b":1.620,"y":0.010,"l":0.0072,"h":0.0128,"r":-1.5,"rl":-2.5,"rh":-0.5},
{"s":"b","e":1.640,"a":1.620,"b":1.660,"y":0.0088,"l":0.0063,"h":0.0113,"r":0.4,"rl":-0.6,"rh":1.4},
{"s":"b","e":1.680,"a":1.660,"b":1.700,"y":0.0076,"l":0.0055,"h":0.0097,"r":1.7,"rl":0.7,"rh":2.7},
{"s":"b","e":1.720,"a":1.700,"b":1.740,"y":0.0080,"l":0.0058,"h":0.0102,"r":-0.8,"rl":-1.8,"rh":0.2},
{"s":"b","e":1.760,"a":1.740,"b":1.780,"y":0.0085,"l":0.0061,"h":0.0109,"r":1.3,"rl":0.3,"rh":2.3},
{"s":"b","e":1.800,"a":1.780,"b":1.820,"y":0.0098,"l":0.0071,"h":0.0125,"r":0.6,"rl":-0.4,"rh":1.6},
{"s":"b","e":1.840,"a":1.820,"b":1.858,"y":0.0110,"l":0.0079,"h":0.0141,"r":1.5,"rl":0.5,"rh":2.5},
{"s":"b","e":1.875,"a":1.858,"b":1.892,"y":0.0110,"l":0.0079,"h":0.0141,"r":0.8,"rl":-0.2,"rh":1.8},
{"s":"b","e":1.955,"a":1.910,"b":2.000,"y":0.0042,"l":0.0033,"h":0.0053,"r":1.1,"rl":0.1,"rh":2.1},
{"s":"b","e":2.070,"a":2.000,"b":2.140,"y":0.0023,"l":0.0018,"h":0.0030,"r":0.6,"rl":-0.4,"rh":1.6}
],
"mod":[
{"s":"k","e":0.295,"m":1.33},{"s":"k","e":0.315,"m":1.42},{"s":"k","e":0.330,"m":1.50},{"s":"k","e":0.345,"m":1.58},{"s":"k","e":0.360,"m":1.68},{"s":"k","e":0.375,"m":1.78},{"s":"k","e":0.390,"m":1.90},{"s":"k","e":0.405,"m":2.00},{"s":"k","e":0.420,"m":2.10},{"s":"k","e":0.435,"m":2.22},{"s":"k","e":0.450,"m":2.33},{"s":"k","e":0.465,"m":2.45},{"s":"k","e":0.480,"m":2.58},{"s":"k","e":0.495,"m":2.76},{"s":"k","e":0.510,"m":3.02},{"s":"k","e":0.525,"m":3.40},{"s":"k","e":0.540,"m":3.85},{"s":"k","e":0.555,"m":4.15},{"s":"k","e":0.570,"m":4.30},{"s":"k","e":0.585,"m":4.35},{"s":"k","e":0.600,"m":4.10},{"s":"k","e":0.615,"m":3.95},{"s":"k","e":0.630,"m":3.92},{"s":"k","e":0.645,"m":3.85},{"s":"k","e":0.660,"m":3.82},{"s":"k","e":0.675,"m":3.88},{"s":"k","e":0.690,"m":3.90},{"s":"k","e":0.705,"m":3.55},{"s":"k","e":0.720,"m":3.10},{"s":"k","e":0.735,"m":2.82},{"s":"k","e":0.750,"m":2.70},{"s":"k","e":0.770,"m":2.64},{"s":"k","e":0.790,"m":2.60},{"s":"k","e":0.810,"m":2.58},{"s":"k","e":0.830,"m":2.52},{"s":"k","e":0.850,"m":2.40},{"s":"k","e":0.870,"m":2.18},{"s":"k","e":0.890,"m":1.98},{"s":"k","e":0.910,"m":1.78},{"s":"k","e":0.930,"m":1.58},{"s":"k","e":0.950,"m":1.38},{"s":"k","e":0.970,"m":1.20},{"s":"k","e":0.990,"m":1.05},{"s":"k","e":1.010,"m":0.90},{"s":"k","e":1.030,"m":0.76},{"s":"k","e":1.050,"m":0.64},{"s":"k","e":1.070,"m":0.55},{"s":"k","e":1.090,"m":0.47},{"s":"k","e":1.110,"m":0.41},{"s":"k","e":1.130,"m":0.36},{"s":"k","e":1.150,"m":0.32},{"s":"k","e":1.170,"m":0.29},{"s":"k","e":1.190,"m":0.26},{"s":"k","e":1.220,"m":0.24},{"s":"k","e":1.250,"m":0.23},{"s":"k","e":1.280,"m":0.235},{"s":"k","e":1.310,"m":0.25},{"s":"k","e":1.340,"m":0.21},{"s":"k","e":1.360,"m":0.15},{"s":"k","e":1.380,"m":0.12},{"s":"k","e":1.400,"m":0.10},{"s":"k","e":1.430,"m":0.080},{"s":"k","e":1.460,"m":0.066},{"s":"k","e":1.500,"m":0.055},{"s":"k","e":1.540,"m":0.047},{"s":"k","e":1.580,"m":0.041},{"s":"k","e":1.620,"m":0.037},{"s":"k","e":1.660,"m":0.034},{"s":"k","e":1.700,"m":0.032},{"s":"k","e":1.750,"m":0.031},{"s":"k","e":1.800,"m":0.030},{"s":"k","e":1.850,"m":0.029},{"s":"k","e":1.900,"m":0.022},{"s":"k","e":1.930,"m":0.016},{"s":"k","e":1.960,"m":0.011},{"s":"k","e":2.000,"m":0.0085},{"s":"k","e":2.050,"m":0.0075},{"s":"k","e":2.120,"m":0.0055},{"s":"k","e":2.180,"m":0.0037},{"s":"k","e":2.270,"m":0.0015},{"s":"k","e":2.620,"m":0.00028},{"s":"k","e":4.090,"m":0.00028},
{"s":"rb","e":0.296,"m":0.195},{"s":"rb","e":0.320,"m":0.215},{"s":"rb","e":0.340,"m":0.235},{"s":"rb","e":0.360,"m":0.255},{"s":"rb","e":0.380,"m":0.28},{"s":"rb","e":0.400,"m":0.30},{"s":"rb","e":0.420,"m":0.33},{"s":"rb","e":0.440,"m":0.36},{"s":"rb","e":0.460,"m":0.42},{"s":"rb","e":0.475,"m":0.50},{"s":"rb","e":0.500,"m":0.53},{"s":"rb","e":0.520,"m":0.57},{"s":"rb","e":0.540,"m":0.62},{"s":"rb","e":0.555,"m":0.72},{"s":"rb","e":0.575,"m":0.74},{"s":"rb","e":0.595,"m":0.55},{"s":"rb","e":0.612,"m":0.50},{"s":"rb","e":0.625,"m":0.60},{"s":"rb","e":0.640,"m":0.82},{"s":"rb","e":0.660,"m":0.78},{"s":"rb","e":0.680,"m":0.62},{"s":"rb","e":0.693,"m":0.48},{"s":"rb","e":0.710,"m":0.58},{"s":"rb","e":0.735,"m":0.56},{"s":"rb","e":0.750,"m":0.50},{"s":"rb","e":0.770,"m":0.58},{"s":"rb","e":0.790,"m":0.68},{"s":"rb","e":0.810,"m":0.62},{"s":"rb","e":0.830,"m":0.48},{"s":"rb","e":0.850,"m":0.42},{"s":"rb","e":0.865,"m":0.37},{"s":"rb","e":0.885,"m":0.48},{"s":"rb","e":0.905,"m":0.54},{"s":"rb","e":0.920,"m":0.42},{"s":"rb","e":0.940,"m":0.26},{"s":"rb","e":0.965,"m":0.23},{"s":"rb","e":0.990,"m":0.22},{"s":"rb","e":1.010,"m":0.245},{"s":"rb","e":1.040,"m":0.20},{"s":"rb","e":1.060,"m":0.16},{"s":"rb","e":1.090,"m":0.13},{"s":"rb","e":1.110,"m":0.11},{"s":"rb","e":1.140,"m":0.095},{"s":"rb","e":1.170,"m":0.085},{"s":"rb","e":1.200,"m":0.070},{"s":"rb","e":1.230,"m":0.060},{"s":"rb","e":1.260,"m":0.055},{"s":"rb","e":1.290,"m":0.062},{"s":"rb","e":1.320,"m":0.078},{"s":"rb","e":1.350,"m":0.070},{"s":"rb","e":1.375,"m":0.048},{"s":"rb","e":1.400,"m":0.034},{"s":"rb","e":1.430,"m":0.026},{"s":"rb","e":1.460,"m":0.021},{"s":"rb","e":1.500,"m":0.017},{"s":"rb","e":1.540,"m":0.013},{"s":"rb","e":1.580,"m":0.011},{"s":"rb","e":1.620,"m":0.0095},{"s":"rb","e":1.660,"m":0.0080},{"s":"rb","e":1.700,"m":0.0075},{"s":"rb","e":1.740,"m":0.0080},{"s":"rb","e":1.780,"m":0.0090},{"s":"rb","e":1.820,"m":0.0105},{"s":"rb","e":1.860,"m":0.0115},{"s":"rb","e":1.890,"m":0.0070},
{"s":"rt","e":1.920,"m":0.0018},{"s":"rt","e":2.300,"m":0.00028},{"s":"rt","e":3.270,"m":0.00028},
{"s":"bt","e":1.910,"m":0.0033},{"s":"bt","e":2.000,"m":0.0020},{"s":"bt","e":2.140,"m":0.0020}
]
},
"vconcat":[
{
"width":495,"height":235,
"resolve":{"axis":{"x":"independent","y":"independent"}},
"layer":[
{"data":{"name":"obs"},"transform":[{"filter":"datum.s==='k'"}],"mark":{"type":"rule","color":"black"},
 "encoding":{
  "x":{"field":"a","type":"quantitative","scale":{"type":"log","domain":[0.272,5],"nice":false},
   "axis":{"orient":"bottom","values":[0.3,0.4,0.5,0.6,0.7,0.8,0.9,1,2,3,4,5],"labels":false,"title":null,"minExtent":0,"maxExtent":0,"tickSize":{"condition":{"test":"datum.value===1","value":-9},"value":-5}}},
  "x2":{"field":"b"},
  "y":{"field":"y","type":"quantitative","scale":{"type":"log","domain":[0.00011,8.66],"nice":false},
   "axis":{"orient":"left","values":[0.0002,0.0003,0.0004,0.0005,0.0006,0.0007,0.0008,0.0009,0.001,0.002,0.003,0.004,0.005,0.006,0.007,0.008,0.009,0.01,0.02,0.03,0.04,0.05,0.06,0.07,0.08,0.09,0.1,0.2,0.3,0.4,0.5,0.6,0.7,0.8,0.9,1,2,3,4,5,6,7,8],
    "labelExpr":"abs(log(datum.value)/LN10-round(log(datum.value)/LN10))<0.000001 ? format(datum.value,'.3f') : ''",
    "labelFontSize":{"condition":{"test":"abs(log(datum.value)/LN10-round(log(datum.value)/LN10))<0.000001","value":15},"value":0},
    "tickSize":{"condition":{"test":"abs(log(datum.value)/LN10-round(log(datum.value)/LN10))<0.000001","value":-10},"value":-5},
    "labelPadding":26,"title":"Counts  s⁻¹  keV⁻¹","titlePadding":7}}}},
{"data":{"name":"obs"},"transform":[{"filter":"datum.s==='k'"}],"mark":{"type":"rule","color":"black"},
 "encoding":{"x":{"field":"e","type":"quantitative","axis":null},"y":{"field":"l","type":"quantitative","axis":null},"y2":{"field":"h"}}},
{"data":{"name":"mod"},"transform":[{"filter":"datum.s==='k'"}],"mark":{"type":"line","color":"black","interpolate":"step-after"},
 "encoding":{
  "x":{"field":"e","type":"quantitative","axis":{"orient":"top","values":[0.3,0.4,0.5,0.6,0.7,0.8,0.9,1,2,3,4,5],"labels":false,"title":null,"minExtent":0,"maxExtent":0,"tickSize":{"condition":{"test":"datum.value===1","value":-9},"value":-5}}},
  "y":{"field":"m","type":"quantitative","axis":{"orient":"right","values":[0.0002,0.0003,0.0004,0.0005,0.0006,0.0007,0.0008,0.0009,0.001,0.002,0.003,0.004,0.005,0.006,0.007,0.008,0.009,0.01,0.02,0.03,0.04,0.05,0.06,0.07,0.08,0.09,0.1,0.2,0.3,0.4,0.5,0.6,0.7,0.8,0.9,1,2,3,4,5,6,7,8],"labels":false,"title":null,"minExtent":0,"maxExtent":0,
    "tickSize":{"condition":{"test":"abs(log(datum.value)/LN10-round(log(datum.value)/LN10))<0.000001","value":-10},"value":-5}}}}},
{"data":{"name":"obs"},"transform":[{"filter":"datum.s==='r'"}],"mark":{"type":"rule","color":"#f0204f"},
 "encoding":{"x":{"field":"a","type":"quantitative","axis":null},"x2":{"field":"b"},"y":{"field":"y","type":"quantitative","axis":null}}},
{"data":{"name":"obs"},"transform":[{"filter":"datum.s==='r'"}],"mark":{"type":"rule","color":"#f0204f"},
 "encoding":{"x":{"field":"e","type":"quantitative","axis":null},"y":{"field":"l","type":"quantitative","axis":null},"y2":{"field":"h"}}},
{"data":{"name":"mod"},"transform":[{"filter":"datum.s==='rb'||datum.s==='rt'"}],"mark":{"type":"line","color":"#f0204f","interpolate":"step-after"},
 "encoding":{"x":{"field":"e","type":"quantitative","axis":null},"y":{"field":"m","type":"quantitative","axis":null}}},
{"data":{"name":"obs"},"transform":[{"filter":"datum.s==='b'"}],"mark":{"type":"rule","color":"#0000ff"},
 "encoding":{"x":{"field":"a","type":"quantitative","axis":null},"x2":{"field":"b"},"y":{"field":"y","type":"quantitative","axis":null}}},
{"data":{"name":"obs"},"transform":[{"filter":"datum.s==='b'"}],"mark":{"type":"rule","color":"#0000ff"},
 "encoding":{"x":{"field":"e","type":"quantitative","axis":null},"y":{"field":"l","type":"quantitative","axis":null},"y2":{"field":"h"}}},
{"data":{"name":"mod"},"transform":[{"filter":"datum.s==='rb'||datum.s==='bt'"}],"mark":{"type":"line","color":"#0000ff","interpolate":"step-after"},
 "encoding":{"x":{"field":"e","type":"quantitative","axis":null},"y":{"field":"m","type":"quantitative","axis":null}}}
]
},
{
"width":495,"height":120,
"resolve":{"axis":{"x":"independent","y":"independent"}},
"layer":[
{"data":{"values":[{"z":0}]},"mark":{"type":"rule","color":"black","strokeDash":[4,3,1,3]},
 "encoding":{"y":{"field":"z","type":"quantitative","scale":{"domain":[-5.8,5.8],"nice":false,"zero":false},"axis":null}}},
{"data":{"name":"obs"},"transform":[{"filter":"datum.s==='k'"}],"mark":{"type":"rule","color":"black"},
 "encoding":{
  "x":{"field":"a","type":"quantitative","scale":{"type":"log","domain":[0.272,5],"nice":false},
   "axis":{"orient":"bottom","values":[0.3,0.4,0.5,0.6,0.7,0.8,0.9,1,2,3,4,5],
    "labelExpr":"datum.value===0.5 ? '0.5' : datum.value===1 ? '1' : datum.value===2 ? '2' : datum.value===5 ? '5' : ''",
    "labelFontSize":{"condition":{"test":"datum.value===0.5||datum.value===1||datum.value===2||datum.value===5","value":15},"value":0},
    "tickSize":{"condition":{"test":"datum.value===1","value":-9},"value":-5},
    "labelPadding":{"condition":{"test":"datum.value===1","value":22},"value":18},
    "title":"Energy  (keV)","titlePadding":5}},
  "x2":{"field":"b"},
  "y":{"field":"r","type":"quantitative","axis":{"orient":"left","values":[-5,-4,-3,-2,-1,0,1,2,3,4,5],"labelExpr":"datum.value % 2 === 0 ? datum.label : ''",
    "labelFontSize":{"condition":{"test":"datum.value % 2 === 0","value":15},"value":0},
    "tickSize":-5,"labelPadding":13,"title":"χ","titlePadding":13}}}},
{"data":{"name":"obs"},"transform":[{"filter":"datum.s==='k'"}],"mark":{"type":"rule","color":"black"},
 "encoding":{
  "x":{"field":"e","type":"quantitative","axis":{"orient":"top","values":[0.3,0.4,0.5,0.6,0.7,0.8,0.9,1,2,3,4,5],"labels":false,"title":null,"minExtent":0,"maxExtent":0,"tickSize":{"condition":{"test":"datum.value===1","value":-9},"value":-5}}},
  "y":{"field":"rl","type":"quantitative","axis":{"orient":"right","values":[-5,-4,-3,-2,-1,0,1,2,3,4,5],"labels":false,"title":null,"minExtent":0,"maxExtent":0,"tickSize":-5}},
  "y2":{"field":"rh"}}},
{"data":{"name":"obs"},"transform":[{"filter":"datum.s==='r'"}],"mark":{"type":"rule","color":"#f0204f"},
 "encoding":{"x":{"field":"a","type":"quantitative","axis":null},"x2":{"field":"b"},"y":{"field":"r","type":"quantitative","axis":null}}},
{"data":{"name":"obs"},"transform":[{"filter":"datum.s==='r'"}],"mark":{"type":"rule","color":"#f0204f"},
 "encoding":{"x":{"field":"e","type":"quantitative","axis":null},"y":{"field":"rl","type":"quantitative","axis":null},"y2":{"field":"rh"}}},
{"data":{"name":"obs"},"transform":[{"filter":"datum.s==='b'"}],"mark":{"type":"rule","color":"#0000ff"},
 "encoding":{"x":{"field":"a","type":"quantitative","axis":null},"x2":{"field":"b"},"y":{"field":"r","type":"quantitative","axis":null}}},
{"data":{"name":"obs"},"transform":[{"filter":"datum.s==='b'"}],"mark":{"type":"rule","color":"#0000ff"},
 "encoding":{"x":{"field":"e","type":"quantitative","axis":null},"y":{"field":"rl","type":"quantitative","axis":null},"y2":{"field":"rh"}}}
]
}
]
}
